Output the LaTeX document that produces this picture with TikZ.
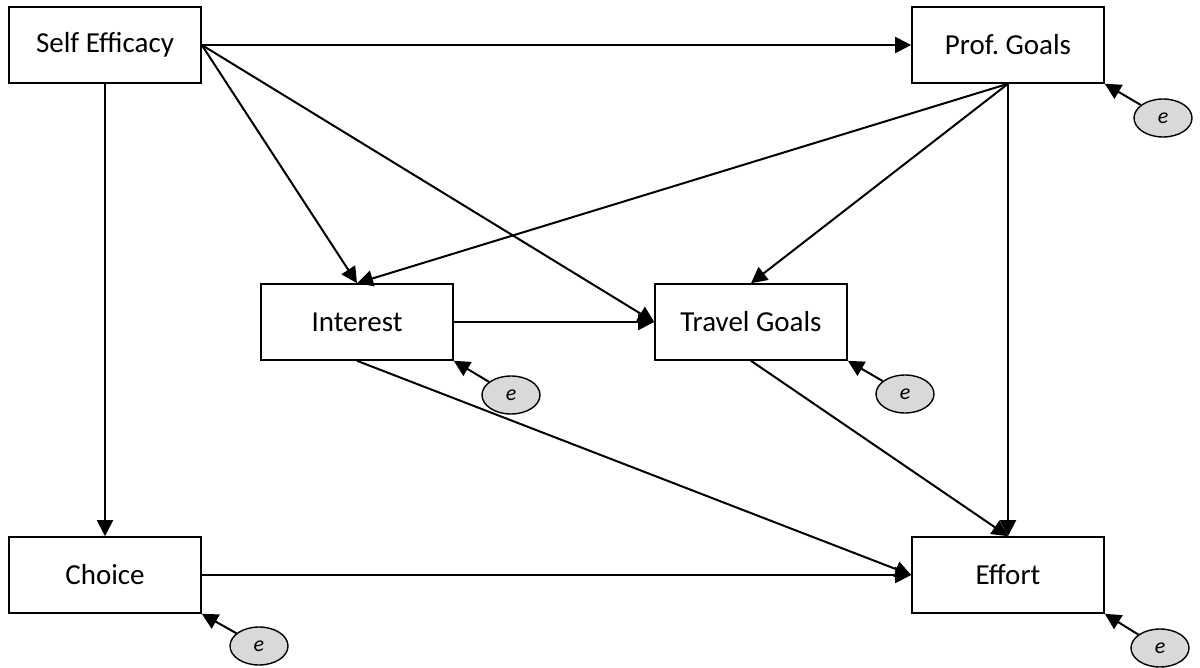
\documentclass[tikz,border=0pt]{standalone}
\usepackage{fontspec}
\setmainfont{Carlito}
\usetikzlibrary{arrows.meta,shapes.geometric}
\definecolor{errb}{RGB}{217,217,217}
\definecolor{ink}{RGB}{0,0,0}

\begin{document}
\begin{tikzpicture}[
  x=0.5pt, y=-0.5pt,
  font=\fontsize{14.5}{17}\selectfont, ink,
  var/.style={draw, line width=0.8pt, minimum width=96pt, minimum height=38pt,
              inner sep=2pt, align=center},
  err/.style={ellipse, draw, fill=errb, line width=0.7pt, minimum width=29pt,
              minimum height=19pt, inner sep=0pt,
              font=\fontsize{11}{12}\selectfont\itshape},
  link/.style={-{Triangle[length=8pt,width=8pt]}, line width=1pt},
]
\useasboundingbox (0,0) rectangle (1200,668);

%% ---- observed variables ----
\node[var] (self)   at (105,45)   {Self Efficacy};
\node[var] (prof)   at (1008,45)  {Prof.\ Goals};
\node[var] (inter)  at (357,322)  {Interest};
\node[var] (travel) at (751,322)  {Travel Goals};
\node[var] (choice) at (105,575)  {Choice};
\node[var] (effort) at (1008,575) {Effort};

%% ---- error terms ----
\node[err] (eprof)   at (1163,118) {e};
\node[err] (einter)  at (511,395)  {e};
\node[err] (etravel) at (905,394)  {e};
\node[err] (echoice) at (259,646)  {e};
\node[err] (eeffort) at (1160,648) {e};

%% ---- paths ----
\draw[link] (self.east) -- (prof.west);
\draw[link] (self.south) -- (choice.north);
\draw[link] (self.east) -- (inter.north);
\draw[link] (self.east) -- (travel.west);
\draw[link] (prof.south) -- (inter.north);
\draw[link] (prof.south) -- (travel.north);
\draw[link] (prof.south) -- (effort.north);
\draw[link] (inter.east) -- (travel.west);
\draw[link] (inter.south) -- (effort.west);
\draw[link] (travel.south) -- (effort.north);
\draw[link] (choice.east) -- (effort.west);

%% ---- residuals ----
\draw[link] (eprof) -- (prof.south east);
\draw[link] (einter) -- (inter.south east);
\draw[link] (etravel) -- (travel.south east);
\draw[link] (echoice) -- (choice.south east);
\draw[link] (eeffort) -- (effort.south east);

\end{tikzpicture}
\end{document}
